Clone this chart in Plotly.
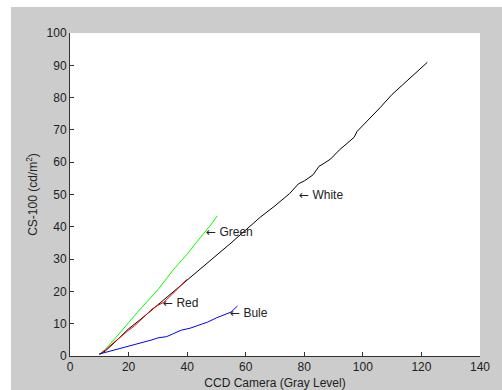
import plotly.graph_objects as go

white_x = [10, 12, 15, 20, 25, 30, 35, 40, 45, 50, 55, 60, 65, 70, 75, 78, 80, 83, 85, 87, 89, 92, 95, 97, 98, 100, 103, 106, 110, 113, 116, 119, 122]
white_y = [0.5, 1.5, 4, 8.4, 12, 15.8, 19.8, 23.5, 27.2, 31.0, 35, 39, 43, 46.5, 50.3, 53.3, 54.2, 56.1, 58.7, 59.8, 61.0, 63.8, 66.3, 67.7, 69.5, 71.3, 74.3, 77.0, 81, 83.5, 86.2, 88.6, 90.9]

green_x = [10, 12, 15, 18, 20, 23, 25, 27, 30, 33, 35, 38, 40, 43, 45, 48, 50.3]
green_y = [0.5, 2, 5, 8, 10.3, 13.5, 15.5, 17.3, 20.5, 24, 26.4, 29.5, 31.5, 35, 37.2, 40.5, 43.4]

red_x = [10, 12, 15, 18, 20, 22, 25, 28, 30, 32, 35, 38, 40]
red_y = [0.5, 1.8, 4.2, 6.6, 8, 9.3, 11.8, 14.5, 15.7, 16.6, 19.2, 22, 23.8]

blue_x = [10, 13, 16, 20, 23, 26, 28, 30, 33, 35, 38, 41, 44, 47, 50, 53, 55, 57.2]
blue_y = [0.6, 1.3, 2, 3, 3.7, 4.3, 5, 5.6, 6, 6.8, 8, 8.6, 9.5, 10.5, 11.8, 12.8, 13.6, 15.5]

labels = ["White", "Green", "Red", "Bule"]
label_x = [78.2, 46.3, 31.7, 54.7]
label_y = [49.8, 38.3, 16.5, 13.2]

FONT = "Arial, Liberation Sans, Helvetica, sans-serif"
ARROW = '<span style="font-family:DejaVu Sans;font-size:12px">\u2190</span> '

fig = go.Figure()
fig.add_trace(go.Scatter(x=white_x, y=white_y, mode="lines", line=dict(color="#000000", width=1), showlegend=False))
fig.add_trace(go.Scatter(x=green_x, y=green_y, mode="lines", line=dict(color="#00ff00", width=1), showlegend=False))
fig.add_trace(go.Scatter(x=red_x, y=red_y, mode="lines", line=dict(color="#ff0000", width=1), showlegend=False))
fig.add_trace(go.Scatter(x=blue_x, y=blue_y, mode="lines", line=dict(color="#0000ff", width=1), showlegend=False))

for t, x, y in zip(labels, label_x, label_y):
    fig.add_annotation(x=x, y=y, text=ARROW + t, showarrow=False, xanchor="left", yanchor="middle",
                       xshift=-2, font=dict(family=FONT, size=12, color="#222222"))

# white strips at top and left of the picture (outside the gray figure area)
fig.add_shape(type="rect", xref="paper", yref="paper", x0=-0.2, x1=1.2, y0=1.0805, y1=1.2,
              fillcolor="#ffffff", line=dict(width=0), layer="below")
fig.add_shape(type="rect", xref="paper", yref="paper", x0=-0.2, x1=-0.1439, y0=-0.2, y1=1.2,
              fillcolor="#ffffff", line=dict(width=0), layer="below")

fig.update_layout(
    width=502, height=390,
    margin=dict(l=70, r=22, t=33, b=34),
    paper_bgcolor="#cccccc",
    plot_bgcolor="#ffffff",
    font=dict(family=FONT, size=12, color="#222222"),
    xaxis=dict(range=[0, 140], dtick=20, ticks="inside", ticklen=4, tickcolor="#333333",
               showline=True, linecolor="#333333", linewidth=1, showgrid=False, zeroline=False,
               automargin=False,
               title=dict(text="CCD Camera (Gray Level)", standoff=6, font=dict(size=12))),
    yaxis=dict(range=[0, 100], dtick=10, ticks="inside", ticklen=4, tickcolor="#333333",
               showline=True, linecolor="#333333", linewidth=1, showgrid=False, zeroline=False,
               automargin=False,
               title=dict(text="CS-100 (cd/m<sup>2</sup>)", standoff=6, font=dict(size=12))),
)

fig.write_html("out.html", config={"displayModeBar": False},
               post_script="document.body.style.margin='0';document.body.style.padding='0';document.body.style.overflow='hidden';")
